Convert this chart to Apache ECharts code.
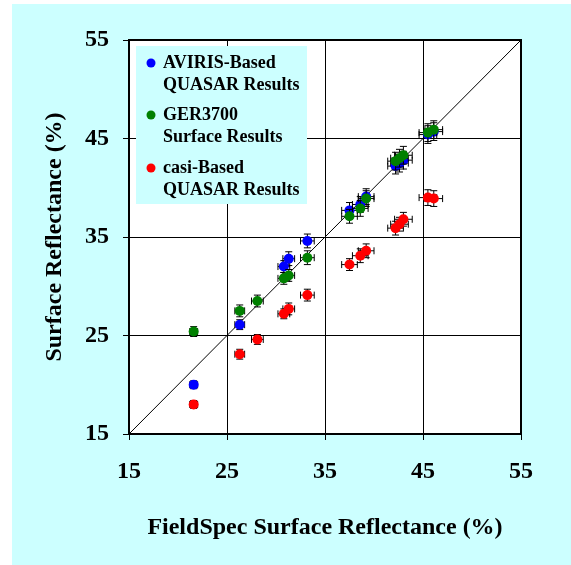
<!DOCTYPE html>
<html>
<head>
<meta charset="utf-8">
<script src="https://cdn.jsdelivr.net/npm/echarts@6/dist/echarts.min.js"></script>
<style>
html,body{margin:0;padding:0;background:#ffffff;}
#bg{position:absolute;left:12px;top:4px;width:559px;height:561px;background:#ccffff;}
#chart{position:absolute;left:0;top:0;width:571px;height:565px;}
</style>
</head>
<body>
<div id="bg"></div>
<div id="chart"></div>
<script>
// ---- data ----
const axisTicks = [15, 25, 35, 45, 55];
const xTitle = 'FieldSpec Surface Reflectance (%)';
const yTitle = 'Surface Reflectance (%)';

const avirisName = 'AVIRIS-Based QUASAR Results';
const avirisX = [21.6, 26.3, 30.8, 31.3, 33.2, 37.5, 38.6, 39.2, 42.2, 42.6, 43.0, 45.5, 46.1];
const avirisY = [20.0, 26.1, 32.0, 32.8, 34.6, 37.7, 38.3, 39.1, 42.2, 42.5, 42.8, 45.4, 45.7];
const avirisXErr = [0.4, 0.5, 0.6, 0.6, 0.7, 0.8, 0.8, 0.8, 0.8, 0.9, 0.9, 0.9, 0.9];
const avirisYErr = [0.4, 0.5, 0.6, 0.7, 0.7, 0.8, 0.8, 0.8, 0.8, 0.9, 0.9, 0.9, 0.9];

const gerName = 'GER3700 Surface Results';
const gerX = [21.6, 26.3, 28.1, 30.8, 31.3, 33.2, 37.5, 38.6, 39.2, 42.2, 42.6, 43.0, 45.5, 46.1];
const gerY = [25.4, 27.5, 28.5, 30.8, 31.1, 32.9, 37.1, 37.9, 38.9, 42.7, 43.0, 43.3, 45.6, 45.9];
const gerXErr = [0.4, 0.5, 0.6, 0.6, 0.6, 0.7, 0.8, 0.8, 0.8, 0.8, 0.9, 0.9, 0.9, 0.9];
const gerYErr = [0.5, 0.6, 0.6, 0.6, 0.6, 0.7, 0.7, 0.8, 0.8, 0.9, 0.9, 0.9, 0.9, 0.9];

const casiName = 'casi-Based QUASAR Results';
const casiX = [21.6, 26.3, 28.1, 30.8, 31.3, 33.2, 37.5, 38.6, 39.2, 42.2, 42.6, 43.0, 45.5, 46.1];
const casiY = [18.0, 23.1, 24.6, 27.2, 27.7, 29.1, 32.2, 33.1, 33.6, 35.9, 36.3, 36.8, 39.0, 38.9];
const casiXErr = [0.4, 0.5, 0.6, 0.6, 0.6, 0.7, 0.8, 0.8, 0.8, 0.8, 0.9, 0.9, 0.9, 0.9];
const casiYErr = [0.4, 0.5, 0.5, 0.5, 0.6, 0.6, 0.6, 0.7, 0.7, 0.7, 0.7, 0.7, 0.8, 0.8];

const legendLines = [
  ['AVIRIS-Based', 'QUASAR Results'],
  ['GER3700', 'Surface Results'],
  ['casi-Based', 'QUASAR Results']
];
const oneToOne = [[15, 15], [55, 55]];

// ---- build ----
const colors = ['#0000ff', '#008000', '#ff0000'];
const FONT = '"Liberation Serif", "Times New Roman", serif';

function pts(xs, ys, xe, ye) {
  return xs.map((x, i) => [x, ys[i], xe[i], ye[i]]);
}
const sets = [
  {name: avirisName, data: pts(avirisX, avirisY, avirisXErr, avirisYErr)},
  {name: gerName, data: pts(gerX, gerY, gerXErr, gerYErr)},
  {name: casiName, data: pts(casiX, casiY, casiXErr, casiYErr)}
];

function errRender(params, api) {
  const x = api.value(0), y = api.value(1), ex = api.value(2), ey = api.value(3);
  const l = api.coord([x - ex, y]), r = api.coord([x + ex, y]);
  const t = api.coord([x, y + ey]), b = api.coord([x, y - ey]);
  const cap = 3.5;
  const style = {stroke: '#000', lineWidth: 1, fill: null};
  const line = (x1, y1, x2, y2) => ({type: 'line', shape: {x1, y1, x2, y2}, style});
  return {
    type: 'group',
    children: [
      line(l[0], l[1], r[0], r[1]),
      line(l[0], l[1] - cap, l[0], l[1] + cap),
      line(r[0], r[1] - cap, r[0], r[1] + cap),
      line(t[0], t[1], b[0], b[1]),
      line(t[0] - cap, t[1], t[0] + cap, t[1]),
      line(b[0] - cap, b[1], b[0] + cap, b[1])
    ]
  };
}

const series = [{
  type: 'line', data: oneToOne, symbol: 'none', silent: true,
  lineStyle: {color: '#000', width: 1}, z: 1
}];
sets.forEach((s, i) => {
  series.push({
    type: 'custom', name: s.name, data: s.data, renderItem: errRender,
    encode: {x: 0, y: 1}, silent: true, z: 2 + i * 2
  });
  series.push({
    type: 'scatter', name: s.name, data: s.data.map(d => [d[0], d[1]]),
    symbol: 'circle', symbolSize: 10, itemStyle: {color: colors[i], opacity: 1},
    z: 3 + i * 2
  });
});

const legendGraphics = [{
  type: 'rect', left: 136, top: 46, shape: {width: 171, height: 158},
  style: {fill: '#ccffff'}, z: 50
}];
const legendY = [63, 115, 168];
legendLines.forEach((lines, i) => {
  legendGraphics.push({
    type: 'circle', shape: {cx: 151, cy: legendY[i], r: 4.5},
    style: {fill: colors[i]}, z: 51
  });
  lines.forEach((t, j) => {
    legendGraphics.push({
      type: 'text', x: 163, y: legendY[i] + j * 22, z: 51,
      style: {text: t, fill: '#000', font: 'bold 18px ' + FONT,
              textAlign: 'left', textVerticalAlign: 'middle'}
    });
  });
});

function axisCommon(name, isX) {
  return {
    type: 'value', min: axisTicks[0], max: axisTicks[axisTicks.length - 1], interval: 10,
    name: name, nameLocation: 'middle', nameGap: isX ? 82 : 62,
    nameTextStyle: {fontFamily: FONT, fontWeight: 'bold', fontSize: 24, color: '#000'},
    axisLine: {show: true, lineStyle: {color: '#000', width: 2}},
    axisTick: {show: true, inside: false, length: 6, lineStyle: {color: '#000', width: 1}},
    axisLabel: {fontFamily: FONT, fontWeight: 'bold', fontSize: 24, color: '#000',
                margin: isX ? 26 : 20},
    splitLine: {show: true, lineStyle: {color: '#000', width: 1}}
  };
}

const chart = echarts.init(document.getElementById('chart'), null, {renderer: 'canvas'});
chart.setOption({
  backgroundColor: 'transparent',
  animation: false,
  grid: {left: 129, right: 50, top: 40, bottom: 131, show: true,
         backgroundColor: '#ffffff', borderColor: '#000', borderWidth: 2},
  xAxis: axisCommon(xTitle, true),
  yAxis: axisCommon(yTitle, false),
  series: series,
  graphic: legendGraphics
});
</script>
</body>
</html>
